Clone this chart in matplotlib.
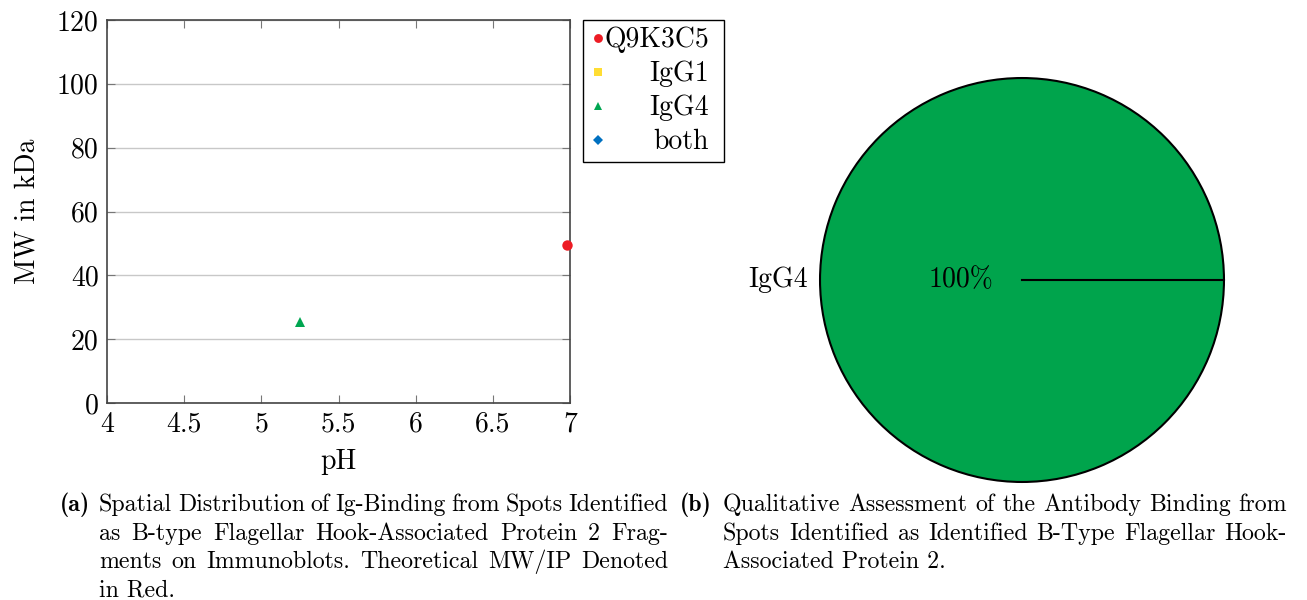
# Scatter of Ig-binding spots (pH vs MW) next to a pie of antibody binding
import numpy as np
import matplotlib.pyplot as plt
from matplotlib.ticker import FuncFormatter
from matplotlib.lines import Line2D

plt.rcParams['font.family'] = ['cmr10', 'DejaVu Serif']
plt.rcParams['mathtext.fontset'] = 'cm'
plt.rcParams['axes.formatter.use_mathtext'] = True

# data
series_names = ["Q9K3C5", "IgG1", "IgG4", "both"]
series_ph = [[6.98], [], [5.25], []]
series_mw = [[49.5], [], [25.5], []]
series_colors = ["#ED1C24", "#FFDD33", "#00A651", "#0070C0"]
series_markers = ["o", "s", "^", "D"]
series_sizes = [7.5, 7, 7, 5.5]

pie_labels = ["IgG4"]
pie_values = [100]
pie_colors = ["#00A44C"]

caption_a = ["Spatial Distribution of Ig-Binding from Spots Identified",
             "as B-type Flagellar Hook-Associated Protein 2 Frag-",
             "ments on Immunoblots.  Theoretical MW/IP Denoted",
             "in Red."]
caption_b = ["Qualitative Assessment of the Antibody Binding from",
             "Spots Identified as Identified B-Type Flagellar Hook-",
             "Associated Protein 2."]

W, H = 1307, 600
fig = plt.figure(figsize=(W / 100, H / 100), dpi=100)
renderer = fig.canvas.get_renderer()

# ---- left: scatter ----
ax = fig.add_axes([107 / W, 1 - 403 / H, 463 / W, 383 / H])
for name, xs, ys, c, m, s in zip(series_names, series_ph, series_mw,
                                 series_colors, series_markers, series_sizes):
    ax.plot(xs, ys, linestyle="none", marker=m, color=c, markersize=s,
            markeredgewidth=0, label=name, clip_on=False, zorder=3)

ax.set_xlim(4, 7)
ax.set_ylim(0, 120)
ax.set_xticks([4, 4.5, 5, 5.5, 6, 6.5, 7])
ax.set_yticks([0, 20, 40, 60, 80, 100, 120])
ax.xaxis.set_major_formatter(FuncFormatter(lambda v, p: "%g" % v))
ax.yaxis.set_major_formatter(FuncFormatter(lambda v, p: "%g" % v))
ax.grid(axis="y", color="#c8c8c8", linewidth=1)
ax.tick_params(direction="in", top=True, right=True, length=6,
               color="#777777", labelsize=20, pad=6)
for sp in ax.spines.values():
    sp.set_color("#444444")
    sp.set_linewidth(1.2)
ax.set_xlabel("pH", fontsize=20, labelpad=8)
ax.set_ylabel("MW in kDa", fontsize=20, labelpad=12)

handles = [Line2D([], [], linestyle="none", marker=m, color=c,
                  markersize=s * 0.85, markeredgewidth=0)
           for c, m, s in zip(series_colors, series_markers, series_sizes)]
leg = fig.legend(handles, series_names, loc="upper left",
                 bbox_to_anchor=(583 / W, 1 - 20 / H), fontsize=20,
                 frameon=True, fancybox=False, edgecolor="black",
                 framealpha=1, borderpad=0.25, handlelength=0.6,
                 handletextpad=0.2, labelspacing=0.27, borderaxespad=0)
leg.get_frame().set_linewidth(1.0)

# ---- right: pie ----
ax2 = fig.add_axes([818 / W, 1 - 484 / H, 408 / W, 408 / H])
start = 0
wedges, _, _ = ax2.pie(pie_values, labels=pie_labels, colors=pie_colors,
                       autopct="%d%%", startangle=start, pctdistance=0.3,
                       labeldistance=1.06,
                       wedgeprops=dict(edgecolor="black", linewidth=1.5),
                       textprops=dict(fontsize=20))
# boundary of the single full wedge
ax2.plot([0, np.cos(np.radians(start))], [0, np.sin(np.radians(start))],
         color="black", linewidth=1.5)
ax2.set_xlim(-1.01, 1.01)
ax2.set_ylim(-1.01, 1.01)
ax2.set_aspect("equal")
ax2.axis("off")

# right-align the legend texts: hide originals, redraw right aligned
fig.canvas.draw()
texts = leg.get_texts()
right_edge = max(t.get_window_extent(renderer).x1 for t in texts) - 8
inv = fig.transFigure.inverted()
for t in texts:
    ax_, ay_ = t.get_transform().transform(t.get_position())
    fx, fy = inv.transform((right_edge, ay_))
    fig.text(fx, fy, t.get_text(), fontsize=20, ha="right", va="baseline",
             zorder=10)
    t.set_alpha(0)


# ---- captions, justified like the LaTeX original ----
def justified(x0, width, y, line, size, last):
    if last:
        fig.text(x0 / W, 1 - y / H, line, fontsize=size, ha="left",
                 va="center")
        return
    words = line.split()
    objs = [fig.text(0, 1 - y / H, w, fontsize=size, ha="left", va="center")
            for w in words]
    widths = [o.get_window_extent(renderer).width for o in objs]
    gap = (width - sum(widths)) / (len(words) - 1)
    x = x0
    for o, w in zip(objs, widths):
        o.set_x(x / W)
        x += w + gap


cap_size = 17.2
line_h = 28.5
fig.text(60 / W, 1 - 505 / H, "(a)", fontsize=cap_size,
         family="cmb10", ha="left", va="center")
for i, line in enumerate(caption_a):
    justified(99, 569, 505 + i * line_h, line, cap_size,
              i == len(caption_a) - 1)
fig.text(680 / W, 1 - 505 / H, "(b)", fontsize=cap_size,
         family="cmb10", ha="left", va="center")
for i, line in enumerate(caption_b):
    justified(723, 564, 505 + i * line_h, line, cap_size,
              i == len(caption_b) - 1)

fig.savefig("out.png", dpi=100)
